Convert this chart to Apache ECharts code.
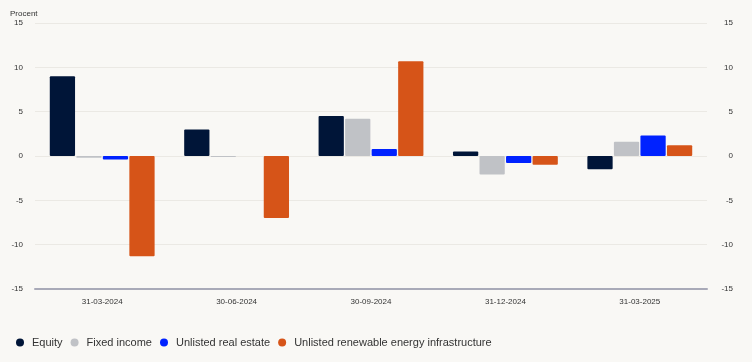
<!DOCTYPE html>
<html><head><meta charset="utf-8">
<script src="https://cdn.jsdelivr.net/npm/echarts@6/dist/echarts.min.js"></script>
<style>html,body{margin:0;padding:0;background:#f9f8f5}#c{width:752px;height:362px}</style>
</head><body><div id="c"></div>
<script>
const categories = ['31-03-2024','30-06-2024','30-09-2024','31-12-2024','31-03-2025'];
const equity = [9.0, 3.0, 4.5, 0.5, -1.5];
const fixedIncome = [-0.2, -0.1, 4.2, -2.1, 1.6];
const realEstate = [-0.4, 0, 0.8, -0.8, 2.3];
const renewable = [-11.3, -7.0, 10.7, -1.0, 1.2];
const seriesNames = ['Equity','Fixed income','Unlisted real estate','Unlisted renewable energy infrastructure'];
const colors = ['#001538','#c0c2c6','#0022ff','#d65418'];

const chart = echarts.init(document.getElementById('c'));
const yCommon = {
  type:'value', min:-15, max:15, interval:5,
  axisLine:{show:false}, axisTick:{show:false},
  splitLine:{lineStyle:{color:'#ebe9e4', width:1}},
  axisLabel:{fontSize:8, color:'#333', fontFamily:'Liberation Sans, Arial'}
};
chart.setOption({
  backgroundColor:'#f9f8f5',
  animation:false,
  color: colors,
  grid:{left:35, right:45, top:23, bottom:73},
  title:{text:'Procent', left:5, top:5, textStyle:{fontSize:8, fontWeight:'normal', color:'#333', fontFamily:'Liberation Sans, Arial'}},
  legend:{
    left:11, top:332, icon:'circle', itemWidth:8, itemHeight:8, itemGap:8,
    textStyle:{fontSize:11, color:'#333', fontFamily:'Liberation Sans, Arial', padding:[0,0,0,3]},
    data: seriesNames
  },
  xAxis:{
    type:'category', data:categories,
    axisLine:{onZero:false, lineStyle:{color:'#a9aab8', width:2}},
    axisTick:{show:false},
    axisLabel:{fontSize:8, color:'#333', margin:9, fontFamily:'Liberation Sans, Arial'}
  },
  yAxis:[
    Object.assign({}, yCommon, {position:'left', axisLabel:Object.assign({}, yCommon.axisLabel, {margin:12})}),
    Object.assign({}, yCommon, {position:'right', splitLine:{show:false}, axisLabel:Object.assign({}, yCommon.axisLabel, {margin:26, align:'right'})})
  ],
  series:[
    {name:seriesNames[0], type:'bar', data:equity, barGap:'5%', barCategoryGap:'22%', itemStyle:{color:colors[0], borderRadius:1}},
    {name:seriesNames[1], type:'bar', data:fixedIncome, itemStyle:{color:colors[1], borderRadius:1}},
    {name:seriesNames[2], type:'bar', data:realEstate, itemStyle:{color:colors[2], borderRadius:1}},
    {name:seriesNames[3], type:'bar', data:renewable, itemStyle:{color:colors[3], borderRadius:1}}
  ]
});
</script></body></html>
